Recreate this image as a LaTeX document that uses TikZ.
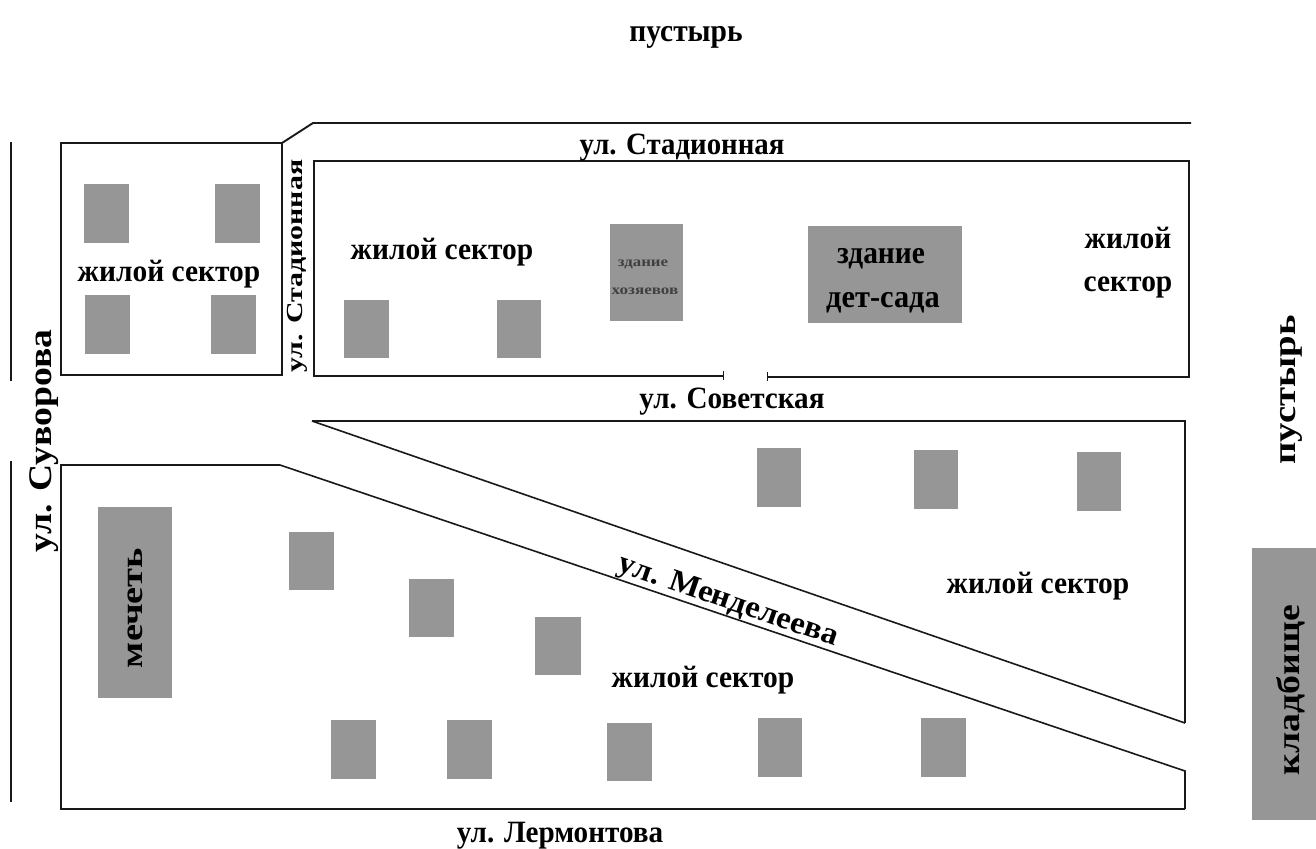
\documentclass[tikz,border=0pt]{standalone}
\usepackage{fontspec}
\setmainfont{Liberation Serif}
\definecolor{bgrey}{RGB}{150,150,150}
\definecolor{inkc}{RGB}{25,25,25}
\newcommand{\fs}[1]{\fontsize{#1}{#1}\selectfont}
\tikzset{
  house/.style={fill=bgrey,draw=none},
  road/.style={draw=inkc,line width=1.9pt,line join=miter},
  thin road/.style={draw=inkc,line width=1.5pt},
  lbl/.style={inner sep=0pt,text=black,font=\bfseries,transform shape},
}
\begin{document}
\begin{tikzpicture}[x=1pt,y=-1pt]
\useasboundingbox (0,0) rectangle (1316,848);
% houses
\foreach \n/\a/\b/\c/\d in {
 h1/84/184/129/243, h2/215/184/260/243, h3/85/295/130/354, h4/211/295/256/354,
 h5/344/300/389/358, h6/497/300/541/358,
 h7/757/448/801/507, h8/914/450/958/509, h9/1077/452/1121/511,
 h10/289/532/334/590, h11/409/579/454/637, h12/535/617/581/675,
 h13/331/720/376/779, h14/447/720/492/779, h15/607/723/652/781, h16/758/718/802/777, h17/921/718/966/777,
 mosque/98/507/172/698, owners/610/224/683/321, kinder/808/226/962/323, cem/1252/548/1316/820}
{ \fill[house] (\a,\b) rectangle (\c,\d) coordinate (\n); }
% roads
\coordinate (a1) at (61,143); \coordinate (a2) at (282,143); \coordinate (a3) at (282,375); \coordinate (a4) at (61,375);
\draw[road] (a1) -- (a2) -- (a3) -- (a4) -- cycle;
\coordinate (b0) at (1191,123); \coordinate (b1) at (313,123);
\draw[road] (a2) -- (b1) -- (b0);
\coordinate (c1) at (1189,161); \coordinate (c2) at (314,161); \coordinate (c3) at (314,376); \coordinate (c4) at (723,376);
\coordinate (c5) at (767,377); \coordinate (c6) at (1189,377);
\draw[road] (c4) -- (c3) -- (c2) -- (c1) -- (c6) -- (c5);
\draw[inkc,line width=.8pt] (723,371) -- (723,380);
\draw[inkc,line width=.8pt] (767,372) -- (767,381);
\coordinate (d1) at (312,421); \coordinate (d2) at (1185,421); \coordinate (d3) at (1185,723);
\draw[road] (d3) -- (d2) -- (d1);
\draw[road,line width=1.6pt] (d1) -- (d3);
\coordinate (e1) at (61,465); \coordinate (e2) at (280,465); \coordinate (e3) at (1185,771);
\coordinate (e4) at (1185,809); \coordinate (e5) at (61,809);
\draw[road] (e2) -- (e1) -- (e5) -- (e4);
\draw[road,line width=1.6pt] (e4) -- (e3) -- (e2);
\coordinate (s1) at (11,142); \coordinate (s2) at (11,381); \coordinate (s3) at (11,461); \coordinate (s4) at (11,802);
\draw[thin road] (s1) -- (s2);
\draw[thin road] (s3) -- (s4);
% labels
\node[lbl,xscale=.92] (t1) at (686,37) {\fs{32}пустырь};
\node[lbl,rotate=90,xscale=1.21] (t2) at (1291,390) {\fs{32}пустырь};
\node[lbl,rotate=90,xscale=1.18] (t3) at (1291,690) {\fs{32}кладбище};
\node[lbl,xscale=.93] (t4) at (682,148) {\fs{31}ул. Стадионная};
\node[lbl,rotate=90,xscale=1.3] (t5) at (297,266) {\fs{23}ул. Стадионная};
\node[lbl,rotate=90,xscale=1.14] (t6) at (44,441) {\fs{33}ул. Суворова};
\node[lbl,xscale=.94] (t7) at (732,402) {\fs{31}ул. Советская};
\node[lbl,xscale=.94] (t8) at (560,836) {\fs{31}ул. Лермонтова};
\node[lbl,rotate=-19,xscale=1.06] (t9) at (728,602) {\fs{31}ул. Менделеева};
\node[lbl,xscale=.95] (t10) at (169,274) {\fs{31}жилой сектор};
\node[lbl,xscale=.95] (t11) at (442,252) {\fs{31}жилой сектор};
\node[lbl,xscale=.95] (t12) at (1038,586) {\fs{31}жилой сектор};
\node[lbl,xscale=.95] (t13) at (703,680) {\fs{31}жилой сектор};
\node[lbl,xscale=.95] (t14) at (1128,238) {\fs{31}жилой};
\node[lbl,xscale=.95] (t15) at (1128,287) {\fs{31}сектор};
\node[lbl,xscale=.92] (t16) at (881,259) {\fs{32}здание};
\node[lbl,xscale=.95] (t17) at (883,303) {\fs{32}дет-сада};
\node[lbl,xscale=1.2,text=black!75] (t18) at (643,264) {\fs{14}здание};
\node[lbl,xscale=1.22,text=black!75] (t19) at (645,291) {\fs{14}хозяевов};
\node[lbl,rotate=90,xscale=1.24] (t20) at (135,608) {\fs{31}мечеть};
\end{tikzpicture}
\end{document}
